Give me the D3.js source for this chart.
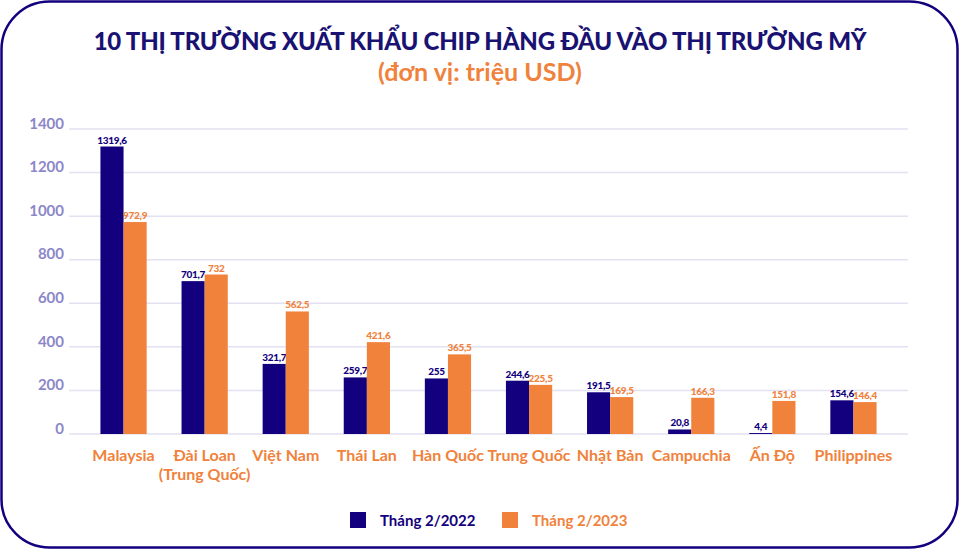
<!DOCTYPE html>
<html>
<head>
<meta charset="utf-8">
<script src="https://cdn.jsdelivr.net/npm/d3@7"></script>
<style>
  body { margin: 0; background: #fff; }
  svg { display: block; font-family: "Lato", "Noto Sans", sans-serif; }
</style>
</head>
<body>
<svg id="chart" width="960" height="549"></svg>
<script>
// data
var categories = ["Malaysia", "Đài Loan\n(Trung Quốc)", "Việt Nam", "Thái Lan", "Hàn Quốc",
                  "Trung Quốc", "Nhật Bản", "Campuchia", "Ấn Độ", "Philippines"];
var seriesNames = ["Tháng 2/2022", "Tháng 2/2023"];
var values2022 = [1319.6, 701.7, 321.7, 259.7, 255, 244.6, 191.5, 20.8, 4.4, 154.6];
var values2023 = [972.9, 732, 562.5, 421.6, 365.5, 225.5, 169.5, 166.3, 151.8, 146.4];
var yTicks = [0, 200, 400, 600, 800, 1000, 1200, 1400];

var navy = "#12007e";
var orange = "#f0823c";
var tickColor = "#8c87c8";
var gridColor = "#e3e1f2";

var svg = d3.select("#chart");

// rounded frame
svg.append("rect")
    .attr("x", 1.5).attr("y", 1.5)
    .attr("width", 956).attr("height", 546)
    .attr("rx", 48).attr("ry", 48)
    .attr("fill", "#fff")
    .attr("stroke", navy)
    .attr("stroke-width", 2.5);

svg.append("text")
    .attr("x", 480).attr("y", 50)
    .attr("text-anchor", "middle")
    .attr("font-size", 24).attr("font-weight", 900)
    .attr("fill", "#1a1272")
    .attr("letter-spacing", -0.2)
    .text("10 THỊ TRƯỜNG XUẤT KHẨU CHIP HÀNG ĐẦU VÀO THỊ TRƯỜNG MỸ");

svg.append("text")
    .attr("x", 480).attr("y", 81)
    .attr("text-anchor", "middle")
    .attr("font-size", 25).attr("font-weight", 700)
    .attr("fill", orange)
    .text("(đơn vị: triệu USD)");

var y = d3.scaleLinear().domain([0, 1400]).range([434, 129]);

var x = d3.scaleBand()
    .domain(categories)
    .range([83, 894])
    .paddingInner(0.43)
    .paddingOuter(0.215);

var xs = d3.scaleBand()
    .domain([0, 1])
    .range([0, x.bandwidth()]);

// grid
svg.append("g")
    .selectAll("line")
    .data(yTicks)
    .join("line")
    .attr("x1", 69).attr("x2", 908)
    .attr("y1", function(d){return y(d);})
    .attr("y2", function(d){return y(d);})
    .attr("stroke", gridColor)
    .attr("stroke-width", 1.5);

// y axis labels
var yAxis = d3.axisLeft(y).tickValues(yTicks).tickFormat(d3.format("d")).tickSize(0).tickPadding(0);
var ga = svg.append("g")
    .attr("transform", "translate(64,0)")
    .call(yAxis);
ga.select(".domain").remove();
ga.selectAll("text")
    .attr("font-family", "Lato, sans-serif")
    .attr("font-size", 15).attr("font-weight", 700)
    .attr("fill", tickColor)
    .attr("dy", "-0.05em");

var fmt = function (v) { return String(v).replace(".", ","); };

var series = [values2022, values2023];
var colors = [navy, orange];

series.forEach(function (vals, s) {
    var g = svg.append("g");
    g.selectAll("rect")
        .data(vals)
        .join("rect")
        .attr("x", function(d,i){return x(categories[i]) + xs(s);})
        .attr("y", function(d){return y(d);})
        .attr("width", xs.bandwidth())
        .attr("height", function(d){return y(0) - y(d);})
        .attr("fill", colors[s]);
    g.selectAll("text")
        .data(vals)
        .join("text")
        .attr("x", function(d,i){return x(categories[i]) + xs(s) + xs.bandwidth()/2;})
        .attr("y", function(d){return y(d) - 3;})
        .attr("text-anchor", "middle")
        .attr("font-size", 10).attr("font-weight", 900)
        .attr("letter-spacing", -0.3)
        .attr("fill", colors[s])
        .text(fmt);
});

// category labels
var cl = svg.append("g")
    .selectAll("text")
    .data(categories)
    .join("text")
    .attr("x", function(d){return x(d) + x.bandwidth()/2;})
    .attr("y", 461)
    .attr("text-anchor", "middle")
    .attr("font-size", 16).attr("font-weight", 700)
    .attr("fill", orange);
cl.each(function (d) {
    var t = d3.select(this);
    d.split("\n").forEach(function (line, k) {
        t.append("tspan")
            .attr("x", t.attr("x"))
            .attr("dy", k === 0 ? 0 : 19)
            .text(line);
    });
});

// legend
var legendX = [350, 502];
seriesNames.forEach(function (name, s) {
    svg.append("rect")
        .attr("x", legendX[s]).attr("y", 512)
        .attr("width", 16).attr("height", 16)
        .attr("fill", colors[s]);
    svg.append("text")
        .attr("x", legendX[s] + 30).attr("y", 526)
        .attr("font-size", 15).attr("font-weight", 700)
        .attr("fill", colors[s])
        .text(name);
});
</script>
</body>
</html>
